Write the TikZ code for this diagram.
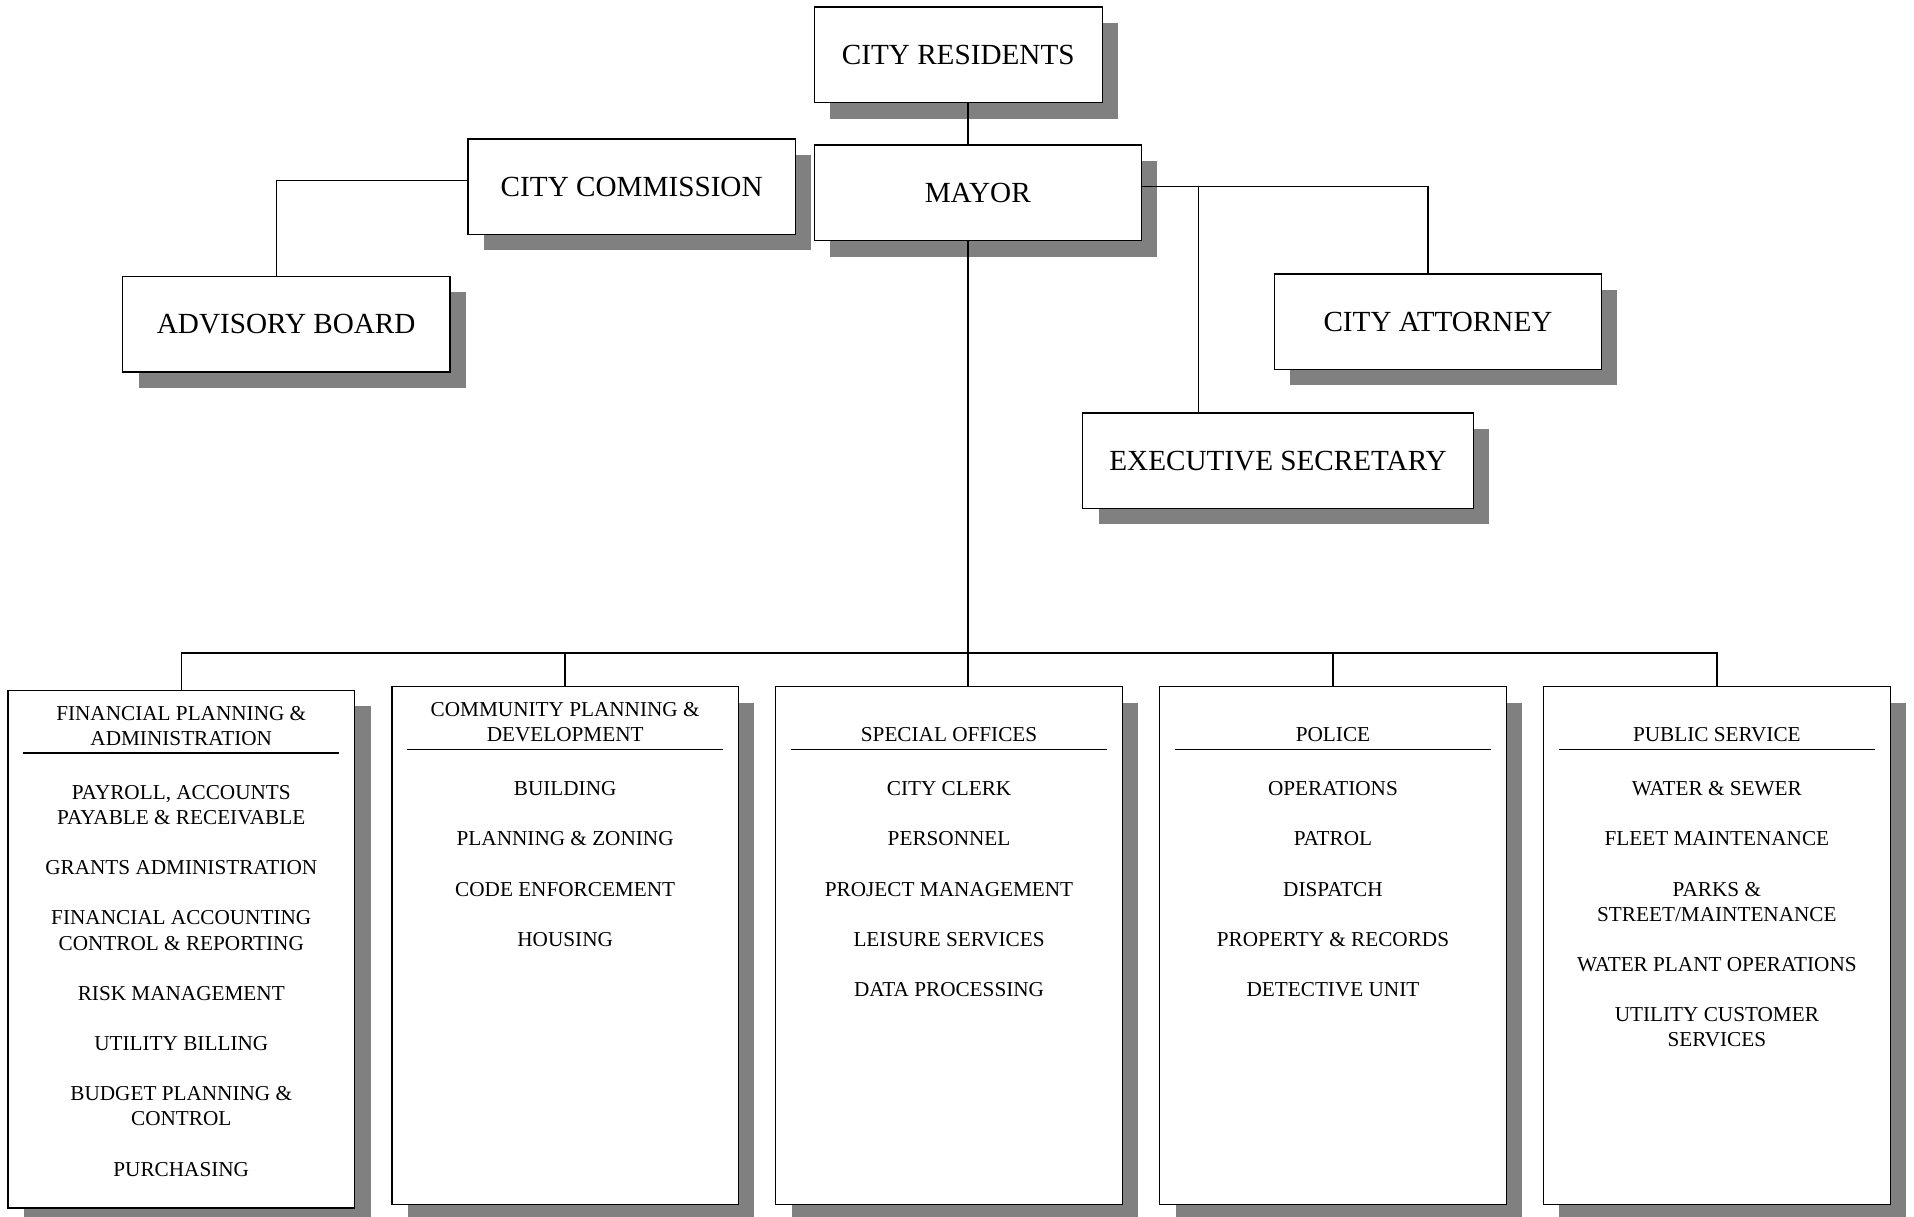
\documentclass[tikz,border=0pt]{standalone}
\usepackage{fontspec}
\setmainfont{Liberation Serif}
\usepackage{tikz}
\usetikzlibrary{calc}
\usetikzlibrary{positioning}
\usetikzlibrary{shadows}

\newcommand{\deptgap}{14.2pt}

\begin{document}
\begin{tikzpicture}[x=0.69pt, y=-0.69pt,
    boxshadow/.style={drop shadow={shadow xshift=9pt, shadow yshift=-9pt, fill=black!50, opacity=1}},
    topbox/.style={draw=black, line width=0.8pt, fill=white, minimum width=184.9pt, minimum height=54pt,
        font=\fontsize{16.5}{19}\selectfont, boxshadow},
    deptbox/.style={draw=black, line width=0.8pt, fill=white, minimum width=196pt, minimum height=292.6pt,
        anchor=north, boxshadow},
    depthead/.style={font=\fontsize{12}{14.2}\selectfont, align=center, inner sep=0pt, anchor=south},
    deptitems/.style={font=\fontsize{12}{14.2}\selectfont, align=center, inner sep=0pt, anchor=north},
    headrule/.style={line width=1.1pt},
    link/.style={line width=0.8pt}]

    \useasboundingbox (0,0) rectangle (1568,997);

    \node[topbox, minimum width=162.8pt] (city_residents) at (785,45) {CITY RESIDENTS};
    \node[topbox] (mayor) at (801,158) {MAYOR};
    \node[topbox] (city_commission) at (517.5,153) {CITY COMMISSION};
    \node[topbox] (advisory_board) at (234.5,265.5) {ADVISORY BOARD};
    \node[topbox] (city_attorney) at (1178,263.5) {CITY ATTORNEY};
    \node[topbox, minimum width=220.8pt] (exec_secretary) at (1047,377.5) {EXECUTIVE SECRETARY};

    \node[deptbox] (fin_plan) at (148.5,565) {};
    \node[deptbox] (comm_plan) at (463,562) {};
    \node[deptbox] (special_off) at (777.5,562) {};
    \node[deptbox] (police) at (1092,562) {};
    \node[deptbox] (public_serv) at (1406.5,562) {};

    \foreach \d in {fin_plan, comm_plan, special_off, police, public_serv}
        \draw[headrule] ($(\d.north west)+(13,52)$) -- ($(\d.north east)+(-13,52)$);

    \node[depthead] (fin_plan_head) at ($(fin_plan.north)+(0,46)$) {FINANCIAL PLANNING \&\\ADMINISTRATION};
    \node[depthead] (comm_plan_head) at ($(comm_plan.north)+(0,46)$) {COMMUNITY PLANNING \&\\DEVELOPMENT};
    \node[depthead] (special_off_head) at ($(special_off.north)+(0,46)$) {SPECIAL OFFICES};
    \node[depthead] (police_head) at ($(police.north)+(0,46)$) {POLICE};
    \node[depthead] (public_serv_head) at ($(public_serv.north)+(0,46)$) {PUBLIC SERVICE};

    \node[deptitems] (fin_plan_items) at ($(fin_plan.north)+(0,78)$)
        {PAYROLL, ACCOUNTS\\PAYABLE \& RECEIVABLE\\[\deptgap]
         GRANTS ADMINISTRATION\\[\deptgap]
         FINANCIAL ACCOUNTING\\CONTROL \& REPORTING\\[\deptgap]
         RISK MANAGEMENT\\[\deptgap]
         UTILITY BILLING\\[\deptgap]
         BUDGET PLANNING \&\\CONTROL\\[\deptgap]
         PURCHASING};
    \node[deptitems] (comm_plan_items) at ($(comm_plan.north)+(0,78)$)
        {BUILDING\\[\deptgap]
         PLANNING \& ZONING\\[\deptgap]
         CODE ENFORCEMENT\\[\deptgap]
         HOUSING};
    \node[deptitems] (special_off_items) at ($(special_off.north)+(0,78)$)
        {CITY CLERK\\[\deptgap]
         PERSONNEL\\[\deptgap]
         PROJECT MANAGEMENT\\[\deptgap]
         LEISURE SERVICES\\[\deptgap]
         DATA PROCESSING};
    \node[deptitems] (police_items) at ($(police.north)+(0,78)$)
        {OPERATIONS\\[\deptgap]
         PATROL\\[\deptgap]
         DISPATCH\\[\deptgap]
         PROPERTY \& RECORDS\\[\deptgap]
         DETECTIVE UNIT};
    \node[deptitems] (public_serv_items) at ($(public_serv.north)+(0,78)$)
        {WATER \& SEWER\\[\deptgap]
         FLEET MAINTENANCE\\[\deptgap]
         PARKS \&\\STREET/MAINTENANCE\\[\deptgap]
         WATER PLANT OPERATIONS\\[\deptgap]
         UTILITY CUSTOMER\\SERVICES};

    \coordinate (trunk) at (793,535);
    \coordinate (mayor_out) at ($(mayor.east)+(0,-5)$);
    \coordinate (att_drop) at ($(city_attorney.north)+(-8,0)$);
    \coordinate (sec_drop) at ($(exec_secretary.north)+(-65,0)$);
    \coordinate (com_out) at ($(city_commission.west)+(0,-5)$);
    \coordinate (adv_drop) at ($(advisory_board.north)+(-8,0)$);

    \draw[link] (city_residents.south -| trunk) -- (mayor.north -| trunk);
    \draw[link] (mayor.south -| trunk) -- (special_off.north -| trunk);
    \draw[link] (fin_plan.north) |- (trunk) -| (public_serv.north);
    \draw[link] (comm_plan.north) -- (comm_plan.north |- trunk);
    \draw[link] (police.north) -- (police.north |- trunk);

    \draw[link] (mayor_out) -| (att_drop);
    \draw[link] (sec_drop |- mayor_out) -- (sec_drop);
    \draw[link] (com_out) -| (adv_drop);

\end{tikzpicture}
\end{document}
